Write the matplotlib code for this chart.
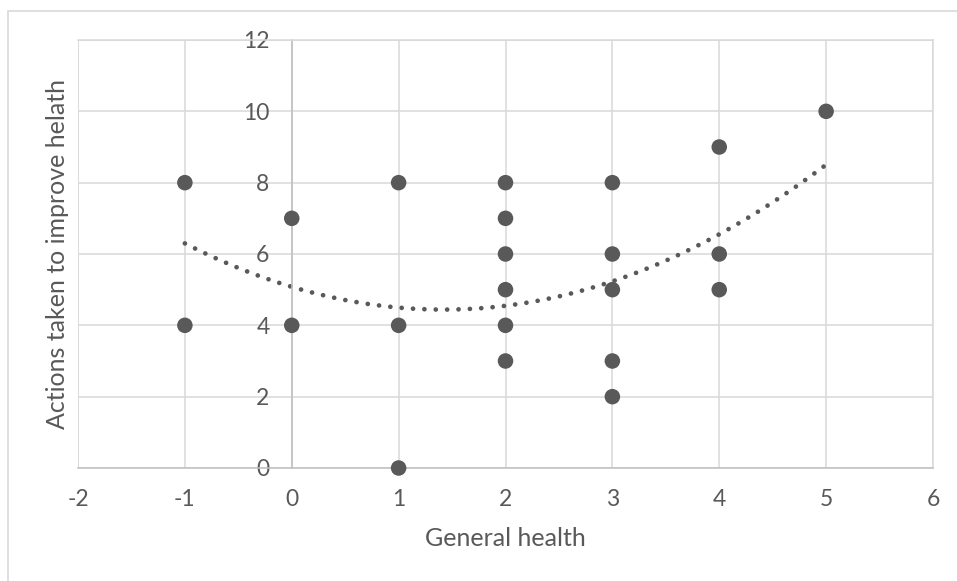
#!/usr/bin/env python3
"""Scatter of general health vs actions taken, with quadratic trendline."""

import numpy as np
import matplotlib.pyplot as plt
from matplotlib.patches import Rectangle

# ---- Data ----
general_health = [-1, -1, 0, 0, 1, 1, 1, 2, 2, 2, 2, 2, 2, 3, 3, 3, 3, 3, 4, 4, 4, 5]
actions_taken = [8, 4, 7, 4, 8, 4, 0, 8, 7, 6, 5, 4, 3, 8, 6, 5, 3, 2, 9, 6, 5, 10]

# polynomial (order 2) trendline coefficients, highest power first
trend_coef = [0.317, -0.90, 5.08]
trend_range = [-1, 5]

x_ticks = [-2, -1, 0, 1, 2, 3, 4, 5, 6]
y_ticks = [0, 2, 4, 6, 8, 10, 12]

text_col = "#595959"
grid_col = "#d9d9d9"
axis_col = "#bfbfbf"

plt.rcParams["font.family"] = ["Lato", "DejaVu Sans"]
plt.rcParams["axes.unicode_minus"] = False

# ---- Plot ----
fig = plt.figure(figsize=(9.57, 5.81), dpi=100, facecolor="white")
ax = fig.add_axes([78 / 957, 113 / 581, 855 / 957, 428 / 581])

# chart-area border (cut off at the right and bottom edges)
fig.patches.append(Rectangle((8 / 957, -0.1), 1.2, (570 / 581) + 0.1,
                             transform=fig.transFigure, fill=False,
                             ec=grid_col, lw=1.2, zorder=0))

ax.set_xlim(-2, 6)
ax.set_ylim(0, 12)
ax.set_xticks(x_ticks)
ax.set_yticks(y_ticks)
ax.grid(True, color=grid_col, linewidth=1.1, zorder=0)
ax.set_axisbelow(True)

for side in ["top", "right"]:
    ax.spines[side].set_color(grid_col)
    ax.spines[side].set_linewidth(1.1)
ax.spines["left"].set_position(("data", 0))
ax.spines["left"].set_color(axis_col)
ax.spines["left"].set_linewidth(1.1)
ax.spines["bottom"].set_color(axis_col)
ax.spines["bottom"].set_linewidth(1.1)

# left edge gridline (spine moved to x = 0)
ax.axvline(-2, color=grid_col, linewidth=1.1, zorder=0)

ax.scatter(general_health, actions_taken, s=125, color="#595959",
           edgecolor="none", zorder=3, clip_on=False)

xs = np.linspace(trend_range[0], trend_range[1], 200)
ax.plot(xs, np.polyval(trend_coef, xs), color="#595959", linewidth=3.4,
        linestyle=(0, (0.01, 2.4)), dash_capstyle="round", zorder=2)

ax.tick_params(axis="y", length=0, pad=16, labelsize=16.5, labelcolor=text_col)
ax.tick_params(axis="x", length=0, pad=15, labelsize=16.5, labelcolor=text_col)

ax.set_xlabel("General health", fontsize=18, color=text_col, labelpad=12)
ax.set_ylabel("Actions taken to improve helath", fontsize=18, color=text_col)
ax.yaxis.set_label_coords(-9 / 855, 0.5)

fig.savefig("out.png", dpi=100, facecolor="white")
plt.close(fig)
print("Saved: out.png")
